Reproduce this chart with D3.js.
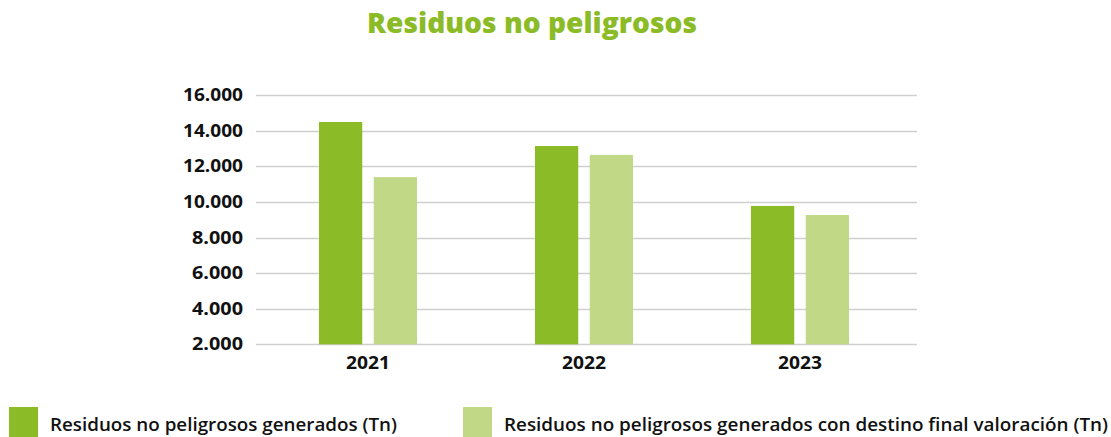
<!DOCTYPE html>
<html><head><meta charset="utf-8">
<script src="https://cdn.jsdelivr.net/npm/d3@7"></script>
<style>body{margin:0;background:#fff}svg{display:block}</style>
</head><body>
<svg id="c" width="1111" height="437"></svg>
<script>
const title = "Residuos no peligrosos";
const categories = ["2021", "2022", "2023"];
const seriesNames = ["Residuos no peligrosos generados (Tn)", "Residuos no peligrosos generados con destino final valoración (Tn)"];
const generados = [14500, 13150, 9780];
const valoracion = [11400, 12650, 9270];
const yTicks = [2000, 4000, 6000, 8000, 10000, 12000, 14000, 16000];
const colors = ["#8BBB26", "#C1D887"];

const svg = d3.select("#c");
const y = d3.scaleLinear().domain([2000, 16000]).range([344.3, 95.3]);
const x = d3.scaleBand().domain(categories).range([260, 908]).paddingInner(0).paddingOuter(0);
const xs = d3.scaleBand().domain([0, 1]).range([-49, 49]).paddingInner(0.21);

svg.append("text").attr("x", 532).attr("y", 33).attr("text-anchor", "middle")
  .attr("font-family", "'Open Sans', sans-serif").attr("font-weight", 800).attr("font-size", 28)
  .attr("fill", "#8BBB26").attr("textLength", 330).attr("lengthAdjust", "spacingAndGlyphs").text(title);

// gridlines
svg.append("g").selectAll("line").data(yTicks).join("line")
  .attr("x1", 256).attr("x2", 917).attr("y1", d => Math.round(y(d)) + 0.5).attr("y2", d => Math.round(y(d)) + 0.5)
  .attr("stroke", "#cfcfcf").attr("stroke-width", 1.5);

// y axis labels
const fmt = d => d3.format(",")(d).replace(/,/g, ".");
svg.append("g").selectAll("text").data(yTicks).join("text")
  .attr("x", 243).attr("y", d => y(d) + 6).attr("text-anchor", "end")
  .attr("font-family", "'Open Sans', sans-serif").attr("font-weight", 700).attr("font-size", 17)
  .attr("fill", "#111").attr("textLength", d => d >= 10000 ? 60 : 51).attr("lengthAdjust", "spacingAndGlyphs")
  .text(fmt);

const series = [generados, valoracion];
const g = svg.append("g");
series.forEach((vals, si) => {
  g.selectAll(null).data(vals).join("rect")
    .attr("x", (d, i) => x(categories[i]) + x.bandwidth() / 2 + xs(si))
    .attr("width", xs.bandwidth())
    .attr("y", d => y(d))
    .attr("height", d => y(2000) - y(d))
    .attr("fill", colors[si]);
});

// x labels
svg.append("g").selectAll("text").data(categories).join("text")
  .attr("x", d => x(d) + x.bandwidth() / 2).attr("y", 369).attr("text-anchor", "middle")
  .attr("font-family", "'Open Sans', sans-serif").attr("font-weight", 700).attr("font-size", 17)
  .attr("fill", "#111").attr("textLength", 44).attr("lengthAdjust", "spacingAndGlyphs").text(d => d);

// legend
const legX = [9, 463], legW = [347, 604];
seriesNames.forEach((n, i) => {
  svg.append("rect").attr("x", legX[i]).attr("y", 407).attr("width", 29).attr("height", 30).attr("fill", colors[i]);
  svg.append("text").attr("x", legX[i] + 41).attr("y", 431)
    .attr("font-family", "'Open Sans', sans-serif").attr("font-weight", 600).attr("font-size", 18)
    .attr("fill", "#111").attr("textLength", legW[i]).attr("lengthAdjust", "spacingAndGlyphs").text(n);
});
</script>
</body></html>
